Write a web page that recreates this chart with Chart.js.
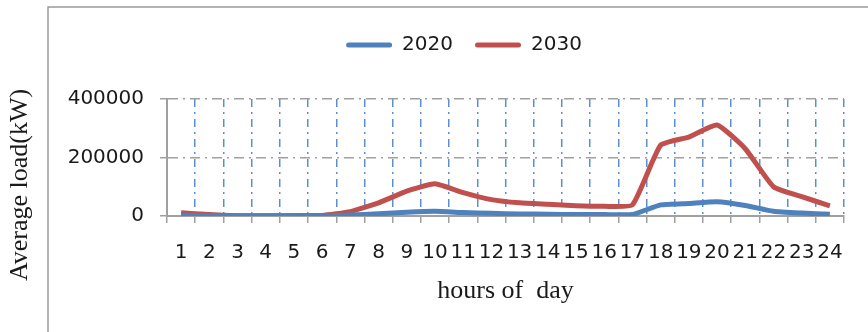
<!DOCTYPE html>
<html>
<head>
<meta charset="utf-8">
<script src="https://cdn.jsdelivr.net/npm/chart.js@4/dist/chart.umd.min.js"></script>
<style>
  html, body { margin: 0; padding: 0; background: #ffffff; }
  canvas { display: block; }
</style>
</head>
<body>
<canvas id="c" width="868" height="332"></canvas>
<script>
const hours = ['1','2','3','4','5','6','7','8','9','10','11','12','13','14','15','16','17','18','19','20','21','22','23','24'];
const load2020 = [3000, 1000, 500, 500, 500, 500, 3000, 8000, 13000, 16000, 12000, 9000, 7000, 6000, 5000, 5000, 5000, 38000, 43000, 49000, 36000, 16000, 10000, 6000];
const load2030 = [11000, 5000, 1000, 1000, 1500, 2000, 15000, 45000, 85000, 110000, 80000, 56000, 45000, 40000, 35000, 33000, 38000, 242000, 270000, 311000, 230000, 100000, 66000, 35000];
const yTicks = [0, 200000, 400000];
const seriesNames = ['2020', '2030'];
const yTitle = 'Average load(kW)';
const xTitle = 'hours of  day';

const BLUE = '#4f81bd';
const RED = '#c0504d';
const AXIS_GRAY = '#a0a0a0';
const TICK_FONT = { family: '"DejaVu Sans"', size: 20 };

const legendSpacer = {
  id: 'legendSpacer',
  beforeInit(chart) {
    const lg = chart.legend;
    const orig = lg.fit.bind(lg);
    lg.fit = function () { orig(); this.height = 86; };
  }
};

const frameAndTitle = {
  id: 'frameAndTitle',
  afterDraw(chart) {
    const ctx = chart.ctx;
    ctx.save();
    ctx.strokeStyle = '#9a9a9a';
    ctx.lineWidth = 1.5;
    ctx.beginPath();
    ctx.moveTo(48, 332);
    ctx.lineTo(48, 7);
    ctx.lineTo(868, 7);
    ctx.stroke();
    ctx.translate(20, 185);
    ctx.rotate(-Math.PI / 2);
    ctx.font = '26px "Liberation Serif"';
    ctx.fillStyle = '#1a1a1a';
    ctx.textAlign = 'center';
    ctx.textBaseline = 'middle';
    ctx.fillText(yTitle, 0, 0);
    ctx.restore();
  }
};

new Chart(document.getElementById('c'), {
  type: 'line',
  data: {
    labels: hours,
    datasets: [
      { label: seriesNames[0], data: load2020, borderColor: BLUE, backgroundColor: BLUE, borderWidth: 5, pointRadius: 0, tension: 0.15, fill: false },
      { label: seriesNames[1], data: load2030, borderColor: RED, backgroundColor: RED, borderWidth: 5, pointRadius: 0, tension: 0.15, fill: false }
    ]
  },
  options: {
    responsive: false,
    animation: false,
    devicePixelRatio: 1,
    layout: { padding: { left: 60, right: 0, top: 13, bottom: 0 } },
    plugins: {
      legend: {
        position: 'top',
        align: 'center',
        labels: {
          font: TICK_FONT,
          color: '#1a1a1a',
          boxWidth: 46,
          boxHeight: 5,
          padding: 22,
          useBorderRadius: true,
          borderRadius: 2.5,
          generateLabels(chart) {
            return chart.data.datasets.map((ds, i) => ({
              text: ds.label,
              fillStyle: ds.borderColor,
              strokeStyle: ds.borderColor,
              lineWidth: 0,
              fontColor: '#1a1a1a',
              borderRadius: 2.5,
              hidden: false,
              datasetIndex: i
            }));
          }
        }
      },
      tooltip: { enabled: false }
    },
    scales: {
      x: {
        type: 'category',
        offset: true,
        afterFit(scale) { scale.height = 116; },
        grid: {
          offset: true,
          color: (ctx) => ctx.index === 0 ? 'rgba(0,0,0,0)' : '#5b8fd0',
          lineWidth: 1.5,
          tickColor: AXIS_GRAY,
          tickWidth: 1.5,
          tickLength: 7,
          drawTicks: true
        },
        border: { display: true, color: AXIS_GRAY, width: 2, dash: [8, 5, 2, 5] },
        ticks: { font: TICK_FONT, color: '#1a1a1a', padding: 18, autoSkip: false, maxRotation: 0, minRotation: 0 },
        title: {
          display: true,
          text: xTitle,
          font: { family: '"Liberation Serif"', size: 26, lineHeight: 1 },
          color: '#1a1a1a',
          padding: { top: 0, bottom: 28 }
        }
      },
      y: {
        min: 0,
        max: 400000,
        afterFit(scale) { scale.width = 107; },
        afterBuildTicks(scale) { scale.ticks = yTicks.map(v => ({ value: v })); },
        grid: {
          color: AXIS_GRAY,
          lineWidth: 1.5,
          tickColor: AXIS_GRAY,
          tickWidth: 1.5,
          tickLength: 7
        },
        border: { display: true, color: AXIS_GRAY, width: 2, dash: [10, 5, 2, 5] },
        ticks: { font: TICK_FONT, color: '#1a1a1a', padding: 16, callback: (v) => String(v) }
      },
      yRightSpace: {
        position: 'right',
        display: true,
        min: 0,
        max: 1,
        afterFit(scale) { scale.width = 24; },
        grid: { display: false, drawOnChartArea: false, drawTicks: false },
        border: { display: false },
        ticks: { display: false }
      }
    }
  },
  plugins: [legendSpacer, frameAndTitle]
});
</script>
</body>
</html>
